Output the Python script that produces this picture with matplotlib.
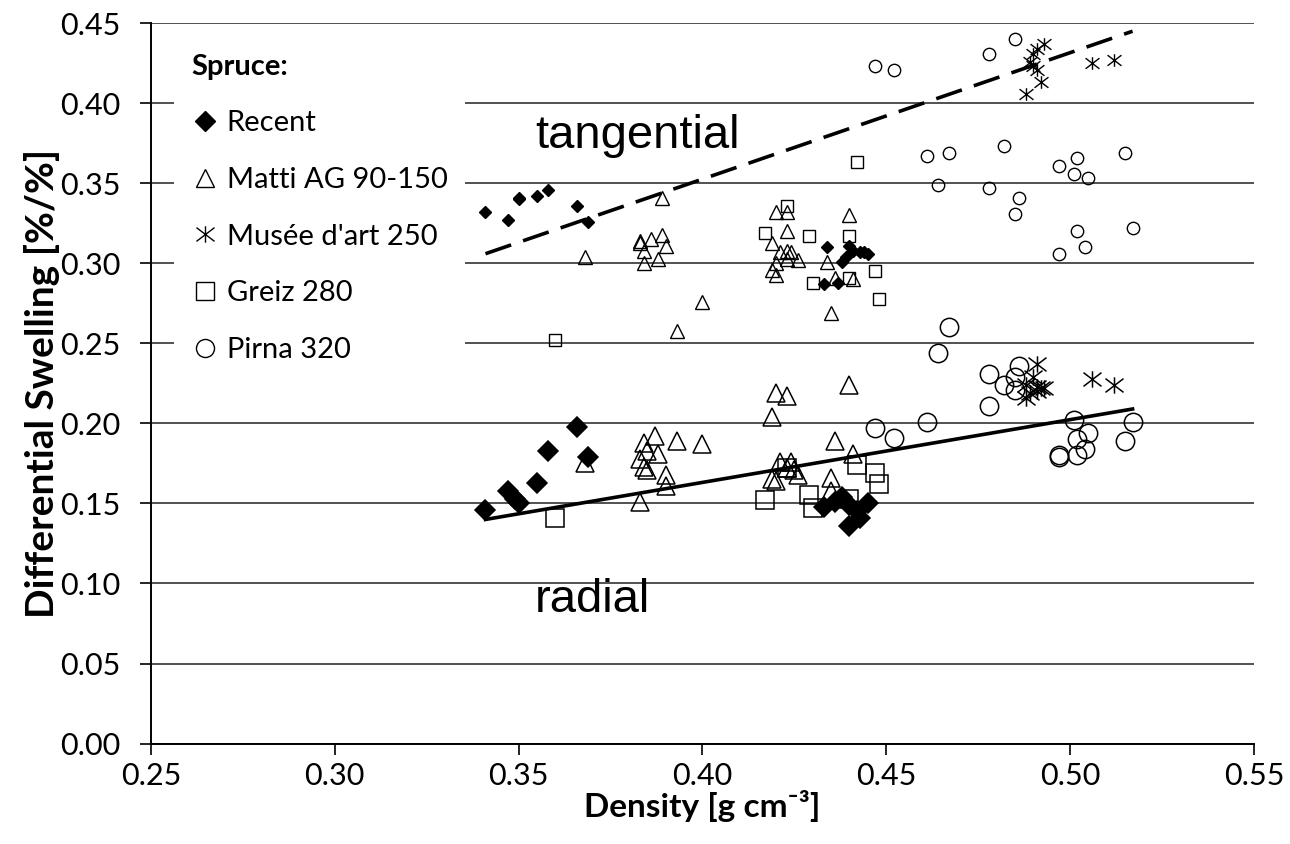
import numpy as np
from matplotlib import pyplot as plt
from matplotlib.lines import Line2D
from matplotlib.path import Path

# density [g cm-3] and differential swelling [%/%]
recent_tan_x = [0.341, 0.347, 0.350, 0.350, 0.355, 0.358, 0.366, 0.369, 0.433, 0.434, 0.437, 0.438, 0.439, 0.440, 0.441, 0.443, 0.444, 0.445]
recent_tan_y = [0.332, 0.327, 0.341, 0.340, 0.342, 0.346, 0.336, 0.326, 0.287, 0.310, 0.288, 0.301, 0.304, 0.311, 0.308, 0.307, 0.307, 0.306]
recent_rad_x = [0.341, 0.347, 0.349, 0.350, 0.355, 0.358, 0.366, 0.369, 0.433, 0.436, 0.438, 0.440, 0.442, 0.440, 0.443, 0.445]
recent_rad_y = [0.146, 0.158, 0.153, 0.150, 0.163, 0.183, 0.198, 0.179, 0.148, 0.151, 0.154, 0.149, 0.145, 0.136, 0.141, 0.150]

matti_tan_x = [0.389, 0.368, 0.383, 0.386, 0.389, 0.390, 0.384, 0.384, 0.388, 0.383, 0.400, 0.393, 0.420, 0.423, 0.440,
               0.423, 0.419, 0.421, 0.423, 0.424, 0.426, 0.423, 0.420, 0.419, 0.420, 0.434, 0.436, 0.441, 0.435]
matti_tan_y = [0.341, 0.304, 0.314, 0.315, 0.318, 0.311, 0.308, 0.300, 0.303, 0.313, 0.276, 0.258, 0.332, 0.332, 0.330,
               0.320, 0.313, 0.307, 0.308, 0.307, 0.302, 0.303, 0.300, 0.296, 0.293, 0.301, 0.291, 0.290, 0.269]
matti_rad_x = [0.368, 0.383, 0.384, 0.385, 0.383, 0.384, 0.385, 0.387, 0.388, 0.390, 0.390, 0.393, 0.400, 0.420,
               0.423, 0.419, 0.440, 0.436, 0.441, 0.421, 0.424, 0.423, 0.425, 0.426, 0.419, 0.420, 0.435, 0.435]
matti_rad_y = [0.175, 0.151, 0.188, 0.183, 0.178, 0.173, 0.171, 0.192, 0.181, 0.168, 0.161, 0.189, 0.187, 0.219,
               0.217, 0.204, 0.224, 0.189, 0.181, 0.176, 0.176, 0.172, 0.171, 0.168, 0.165, 0.164, 0.166, 0.158]

musee_tan_x = [0.493, 0.491, 0.490, 0.489, 0.490, 0.491, 0.492, 0.488, 0.506, 0.512]
musee_tan_y = [0.437, 0.434, 0.431, 0.426, 0.423, 0.421, 0.413, 0.406, 0.425, 0.427]
musee_rad_x = [0.491, 0.490, 0.488, 0.491, 0.492, 0.493, 0.489, 0.488, 0.491, 0.506, 0.512]
musee_rad_y = [0.237, 0.229, 0.224, 0.223, 0.222, 0.222, 0.219, 0.216, 0.220, 0.228, 0.224]

greiz_tan_x = [0.423, 0.417, 0.429, 0.440, 0.430, 0.440, 0.447, 0.448, 0.442, 0.360]
greiz_tan_y = [0.336, 0.319, 0.317, 0.317, 0.288, 0.291, 0.295, 0.278, 0.363, 0.252]
greiz_rad_x = [0.360, 0.417, 0.429, 0.430, 0.440, 0.442, 0.447, 0.448, 0.423]
greiz_rad_y = [0.141, 0.152, 0.155, 0.147, 0.153, 0.174, 0.169, 0.162, 0.172]

pirna_tan_x = [0.447, 0.452, 0.478, 0.485, 0.461, 0.467, 0.482, 0.464, 0.478, 0.486,
               0.485, 0.497, 0.502, 0.501, 0.505, 0.515, 0.502, 0.504, 0.497, 0.517]
pirna_tan_y = [0.423, 0.421, 0.431, 0.440, 0.367, 0.369, 0.373, 0.349, 0.347, 0.341,
               0.331, 0.361, 0.366, 0.356, 0.353, 0.369, 0.320, 0.310, 0.306, 0.322]
pirna_rad_x = [0.467, 0.464, 0.478, 0.486, 0.485, 0.482, 0.485, 0.478, 0.447, 0.452,
               0.461, 0.501, 0.505, 0.502, 0.517, 0.515, 0.504, 0.502, 0.497, 0.497]
pirna_rad_y = [0.260, 0.244, 0.231, 0.236, 0.229, 0.224, 0.221, 0.211, 0.197, 0.191,
               0.201, 0.202, 0.194, 0.190, 0.201, 0.189, 0.184, 0.180, 0.179, 0.180]

# linear trend lines (end points)
tan_fit_x = [0.341, 0.517]
tan_fit_y = [0.306, 0.445]
rad_fit_x = [0.341, 0.517]
rad_fit_y = [0.140, 0.209]

labels = ["Recent", "Matti AG 90-150", "Musée d'art 250", "Greiz 280", "Pirna 320"]

# excel-like asterisk: vertical bar plus a flat X
star = Path([(0, -1), (0, 1), (-1.1, -0.84), (1.1, 0.84), (-1.1, 0.84), (1.1, -0.84)],
            [Path.MOVETO, Path.LINETO] * 3)
markers = ["D", "^", star, "s", "o"]

plt.rcParams['font.family'] = ['Lato', 'DejaVu Sans']

fig = plt.figure(figsize=(12.9, 8.44), dpi=100)
ax = fig.add_axes([0.117, 0.119, 0.855, 0.8535])

series = [
    (recent_tan_x, recent_tan_y, recent_rad_x, recent_rad_y),
    (matti_tan_x, matti_tan_y, matti_rad_x, matti_rad_y),
    (musee_tan_x, musee_tan_y, musee_rad_x, musee_rad_y),
    (greiz_tan_x, greiz_tan_y, greiz_rad_x, greiz_rad_y),
    (pirna_tan_x, pirna_tan_y, pirna_rad_x, pirna_rad_y),
]
tan_size = [6.6, 9.4, 10.0, 8.9, 8.9]
rad_size = [9.7, 13.0, 13.0, 13.5, 13.2]

for i, (tx, ty, rx, ry) in enumerate(series):
    fc = 'black' if i == 0 else 'none'
    ax.plot(tx, ty, linestyle='none', marker=markers[i], markersize=tan_size[i],
            markerfacecolor=fc, markeredgecolor='black', markeredgewidth=1.0, zorder=3)
    ax.plot(rx, ry, linestyle='none', marker=markers[i], markersize=rad_size[i],
            markerfacecolor=fc, markeredgecolor='black', markeredgewidth=1.1, zorder=3)

ax.plot(tan_fit_x, tan_fit_y, color='black', linewidth=2.6, dashes=(7.5, 3.5), zorder=4)
ax.plot(rad_fit_x, rad_fit_y, color='black', linewidth=2.6, zorder=4)

ax.text(0.3545, 0.372, "tangential", fontsize=34, family=['Liberation Sans', 'DejaVu Sans'])
ax.text(0.3545, 0.082, "radial", fontsize=34, family=['Liberation Sans', 'DejaVu Sans'])

ax.set_xlim(0.25, 0.55)
ax.set_ylim(0.0, 0.45)
ax.set_xticks(np.arange(0.25, 0.551, 0.05))
ax.set_yticks(np.arange(0.0, 0.451, 0.05))
ax.set_xticklabels(["%.2f" % v for v in np.arange(0.25, 0.551, 0.05)])
ax.set_yticklabels(["%.2f" % v for v in np.arange(0.0, 0.451, 0.05)])
ax.tick_params(labelsize=22, length=8, width=1.2, direction='out', colors='black')
ax.tick_params(axis='y', pad=14)
ax.tick_params(axis='x', pad=5)
ax.grid(axis='y', color='#222222', linewidth=1.1)
ax.set_axisbelow(True)
for s in ['top', 'right']:
    ax.spines[s].set_visible(False)
for s in ['left', 'bottom']:
    ax.spines[s].set_linewidth(1.4)

ax.set_xlabel("Density [g cm⁻³]", fontsize=24, fontweight='bold', labelpad=0)
ax.set_ylabel("Differential Swelling [%/%]", fontsize=28, fontweight='bold', labelpad=0)

handles = [Line2D([], [], linestyle='none', marker=markers[i], markersize=[10, 13, 13, 13, 13][i],
                  markerfacecolor='black' if i == 0 else 'none', markeredgecolor='black',
                  markeredgewidth=1.0) for i in range(5)]
leg = ax.legend(handles, labels, title="Spruce:", loc='upper left', bbox_to_anchor=(0.021, 0.982),
                borderaxespad=0, fontsize=21, frameon=True, fancybox=False, facecolor='white',
                edgecolor='none', framealpha=1, handlelength=0.9, handletextpad=0.3,
                labelspacing=1.05, borderpad=0.6, alignment='left')
leg.get_title().set_fontsize(21)
leg.get_title().set_fontweight('bold')
leg.set_zorder(5)

fig.savefig("out.png", dpi=100)
